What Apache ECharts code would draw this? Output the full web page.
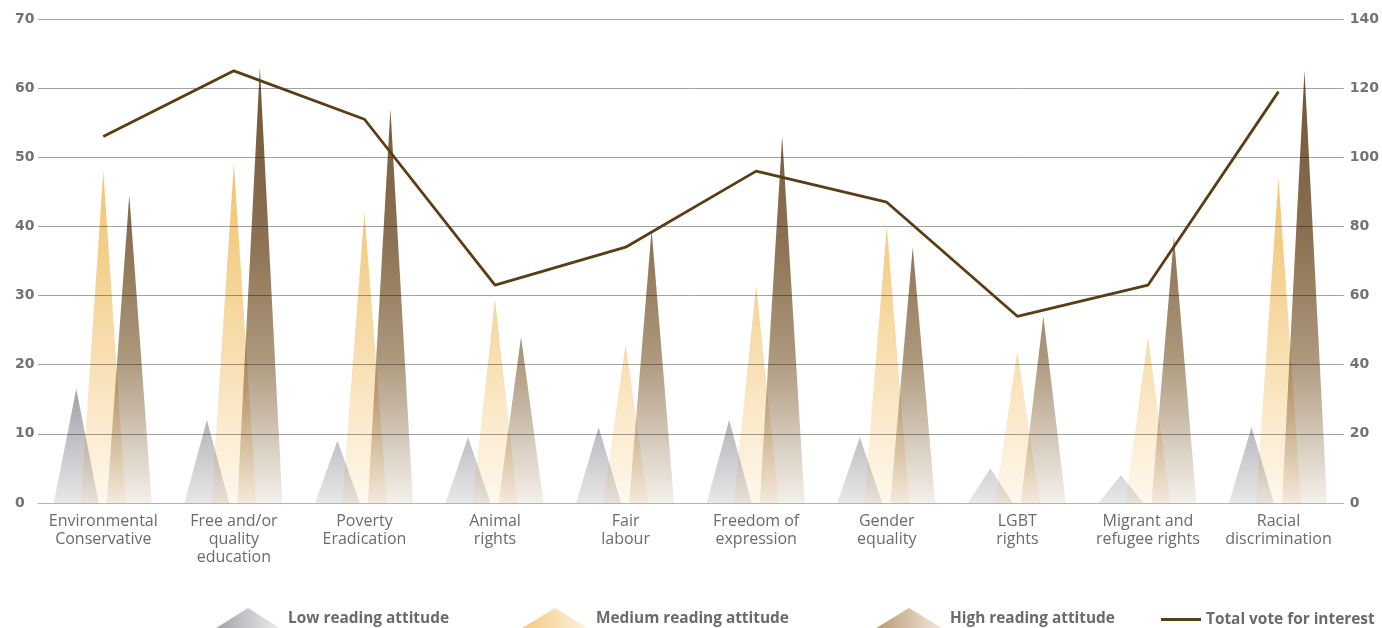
<!DOCTYPE html>
<html>
<head>
<meta charset="utf-8">
<script src="https://cdn.jsdelivr.net/npm/echarts@6/dist/echarts.min.js"></script>
<style>
  html, body { margin: 0; padding: 0; background: #ffffff; }
  #chart { width: 1382px; height: 628px; }
</style>
</head>
<body>
<div id="chart"></div>
<script>
// Interest areas by reading attitude
const categories = [
  'Environmental\nConservative',
  'Free and/or\nquality\neducation',
  'Poverty\nEradication',
  'Animal\nrights',
  'Fair\nlabour',
  'Freedom of\nexpression',
  'Gender\nequality',
  'LGBT\nrights',
  'Migrant and\nrefugee rights',
  'Racial\ndiscrimination'
];
const lowReading    = [16.5, 12, 9, 9.5, 11, 12, 9.5, 5, 4, 11];
const mediumReading = [48, 49, 42, 29.5, 23, 31.5, 40, 22, 24, 47];
const highReading   = [44.5, 63, 57, 24, 39.5, 53, 37, 27, 38.5, 62.5];
const totalVotes    = [106, 125, 111, 63, 74, 96, 87, 54, 63, 119];

const leftTicks = { min: 0, max: 70, interval: 10 };
const rightTicks = { min: 0, max: 140, interval: 20 };

const seriesNames = ['Low reading attitude', 'Medium reading attitude', 'High reading attitude', 'Total vote for interest'];

const GRID_TOP = 19, GRID_BOTTOM_Y = 503;
const SPIKE_HALF = 22.5;
const G = echarts.graphic.LinearGradient;

// vertical fills anchored to the plot area so every spike shares one shading scale
const lowFill = new G(0, GRID_TOP, 0, GRID_BOTTOM_Y, [
  { offset: 0, color: '#7f7e86' },
  { offset: 0.76, color: '#a09fa6' },
  { offset: 1, color: '#e8e8ea' }
], true);
const midFill = new G(0, GRID_TOP, 0, GRID_BOTTOM_Y, [
  { offset: 0, color: '#efba58' },
  { offset: 0.3, color: '#f2c36b' },
  { offset: 0.62, color: '#f6d8a2' },
  { offset: 1, color: '#fff8ee' }
], true);
const highFill = new G(0, GRID_TOP, 0, GRID_BOTTOM_Y, [
  { offset: 0, color: '#684d2d' },
  { offset: 0.12, color: '#705536' },
  { offset: 0.45, color: '#8b7151' },
  { offset: 0.7, color: '#ad987c' },
  { offset: 1, color: '#f4f0eb' }
], true);

// legend swatches fade left to right
const lowIcon  = new G(0, 0, 1, 0, [{ offset: 0, color: '#9e9da4' }, { offset: 1, color: '#f2f2f3' }]);
const midIcon  = new G(0, 0, 1, 0, [{ offset: 0, color: '#f3c77a' }, { offset: 1, color: '#fef4e4' }]);
const highIcon = new G(0, 0, 1, 0, [{ offset: 0, color: '#b8966a' }, { offset: 1, color: '#f3ece3' }]);

const lineColor = '#5b3d14';
const legendText = { fontFamily: 'Open Sans', fontWeight: 'bold', fontSize: 15.4, color: '#6a6a6a' };

// one triangle per category: base on the zero line, apex at the value
function spike(name, values, fill, dx) {
  return {
    name: name,
    type: 'custom',
    blendMode: 'multiply',
    encode: { x: 0, y: 1 },
    data: values.map((v, i) => [i, v]),
    renderItem: function (params, api) {
      const base = api.coord([api.value(0), 0]);
      const apex = api.coord([api.value(0), api.value(1)]);
      const cx = base[0] + dx;
      return {
        type: 'polygon',
        shape: { points: [[cx - SPIKE_HALF, base[1]], [cx, apex[1]], [cx + SPIKE_HALF, base[1]]] },
        style: { fill: fill }
      };
    }
  };
}

const chart = echarts.init(document.getElementById('chart'), null, { renderer: 'canvas' });
chart.setOption({
  animation: false,
  backgroundColor: '#ffffff',
  grid: { left: 38, right: 37, top: GRID_TOP, bottom: 628 - GRID_BOTTOM_Y },
  legend: [
    { left: 213, top: 608, padding: 0, itemWidth: 70, itemHeight: 22, textStyle: legendText,
      data: [{ name: seriesNames[0], icon: 'triangle', itemStyle: { color: lowIcon } }] },
    { left: 519, top: 608, padding: 0, itemWidth: 72, itemHeight: 22, textStyle: legendText,
      data: [{ name: seriesNames[1], icon: 'triangle', itemStyle: { color: midIcon } }] },
    { left: 873, top: 608, padding: 0, itemWidth: 72, itemHeight: 22, textStyle: legendText,
      data: [{ name: seriesNames[2], icon: 'triangle', itemStyle: { color: highIcon } }] },
    { left: 1161, top: 612, padding: 0, itemWidth: 40, itemHeight: 3, textStyle: legendText,
      data: [{ name: seriesNames[3], icon: 'rect', itemStyle: { color: lineColor } }] }
  ],
  xAxis: {
    type: 'category',
    data: categories,
    boundaryGap: true,
    axisLine: { lineStyle: { color: '#b3b3b3', width: 1 } },
    axisTick: { show: false },
    axisLabel: {
      interval: 0,
      margin: 9,
      fontFamily: 'Open Sans',
      fontSize: 16,
      lineHeight: 18,
      color: '#6b6b6b',
      align: 'center'
    }
  },
  yAxis: [
    {
      type: 'value',
      min: leftTicks.min, max: leftTicks.max, interval: leftTicks.interval,
      axisLine: { show: false },
      axisTick: { show: false },
      splitLine: { lineStyle: { color: '#a3a3a3', width: 1 } },
      axisLabel: {
        align: 'left',
        margin: 23,
        fontFamily: 'DejaVu Sans',
        fontWeight: 'bold',
        fontSize: 14,
        color: '#727272'
      }
    },
    {
      type: 'value',
      min: rightTicks.min, max: rightTicks.max, interval: rightTicks.interval,
      axisLine: { show: false },
      axisTick: { show: false },
      splitLine: { show: false },
      axisLabel: {
        align: 'left',
        margin: 6,
        fontFamily: 'DejaVu Sans',
        fontWeight: 'bold',
        fontSize: 14,
        color: '#727272'
      }
    }
  ],
  series: [
    spike(seriesNames[0], lowReading, lowFill, -27),
    spike(seriesNames[1], mediumReading, midFill, 0),
    spike(seriesNames[2], highReading, highFill, 26),
    {
      name: seriesNames[3],
      type: 'line',
      yAxisIndex: 1,
      z: 5,
      symbol: 'none',
      lineStyle: { color: lineColor, width: 2.8 },
      itemStyle: { color: lineColor },
      emphasis: { disabled: true },
      data: totalVotes
    }
  ]
});
</script>
</body>
</html>
